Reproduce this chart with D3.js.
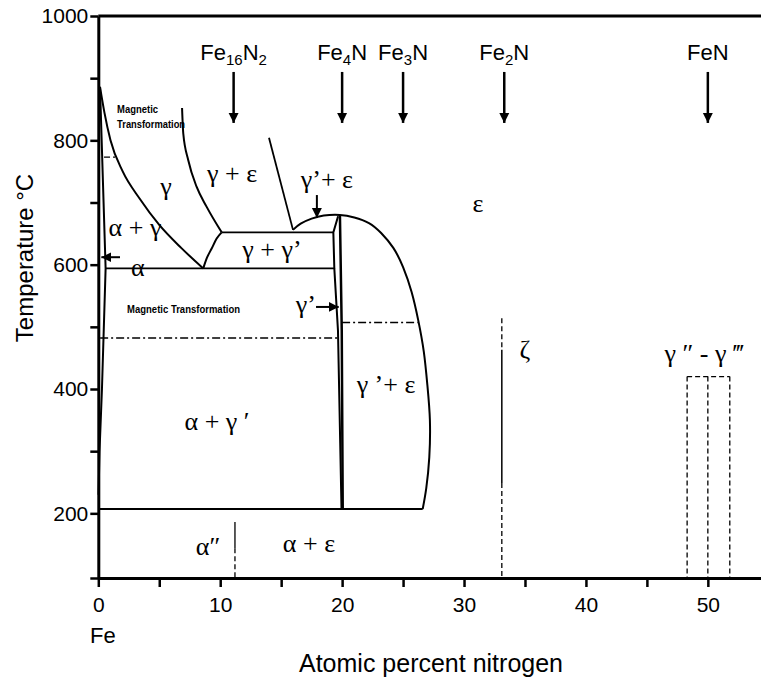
<!DOCTYPE html>
<html>
<head>
<meta charset="utf-8">
<script src="https://cdn.jsdelivr.net/npm/d3@7"></script>
<style>
body { margin: 0; background: #fff; }
svg { display: block; }
.axis text { font-family: "Liberation Sans", Arial, sans-serif; font-size: 21px; fill: #000; }
.axis path, .axis line { stroke: #000; }
.sans { font-family: "Liberation Sans", Arial, sans-serif; fill: #000; }
.greek { font-family: "Liberation Serif", "Times New Roman", serif; font-size: 26px; fill: #000; }
.small { font-family: "Liberation Sans", Arial, sans-serif; font-size: 10px; font-weight: bold; fill: #000; }
</style>
</head>
<body>
<svg id="chart" width="761" height="680"></svg>
<script>
// axis ticks
var xTicks = [0, 5, 10, 15, 20, 25, 30, 35, 40, 45, 50];
var yTicks = [200, 300, 400, 500, 600, 700, 800, 900, 1000];

// phase boundaries [at% N, temperature C]
var alphaSolvus = [[0.14, 886], [0.6, 594], [0.3, 400], [0.1, 300], [0.02, 230]];
var gammaAlpha = [[0.14, 886], [0.5, 845], [1.0, 800], [2.0, 750], [3.4, 706], [5.0, 664], [6.8, 627], [8.61, 594]];
var gammaEps = [[6.87, 852], [6.97, 811], [7.38, 768], [8.07, 725], [8.89, 693], [10.12, 652]];
var gammaGp = [[8.61, 594], [8.89, 610], [9.30, 626], [9.71, 642], [10.12, 652]];
var epsLine = [[14.0, 804], [15.97, 656]];
var epsDome = [[15.97, 656], [16.6, 666], [17.5, 674], [18.5, 679], [19.82, 680], [21.0, 676], [22.2, 667],
  [23.2, 651], [24.2, 627], [25.0, 596], [25.7, 556], [26.25, 510], [26.7, 460], [27.0, 405], [27.2, 350],
  [27.15, 290], [26.9, 240], [26.61, 207]];
var gpLeft = [[19.67, 678], [19.28, 652], [19.36, 594], [19.66, 494], [19.95, 207]];
var gpRight = [[19.82, 680], [19.97, 494], [20.05, 207]];

// horizontal lines: temperature, from, to
var isotherms = [[652, 10.12, 19.28], [594, 0.6, 19.36], [207, 0, 26.61]];
var magneticDashDot = [[482, 0.15, 19.7], [507, 20.0, 26.2]];
var magneticDash = [[773, 0.47, 1.37]];

// vertical lines: x, solid part, dashed parts
var alpha2X = 11.21, alpha2Solid = [186, 144], alpha2Dash = [[144, 96]];
var zetaX = 33.1, zetaSolid = [463, 249], zetaDash = [[514, 463], [249, 96]];
var fenBoxX = [48.3, 50.0, 51.8], fenBoxTop = 420;

// compounds
var compounds = ["Fe16N2", "Fe4N", "Fe3N", "Fe2N", "FeN"];
var compoundX = [11.1, 20, 25, 33.3, 50];

var svg = d3.select("#chart");
var x = d3.scaleLinear().domain([0, 54.36]).range([98.3, 761]);
var y = d3.scaleLinear().domain([96, 1000]).range([578, 16]);

var line = d3.line().x(function(d) { return x(d[0]); }).y(function(d) { return y(d[1]); });
var smoothX = d3.line().x(function(d) { return x(d[0]); }).y(function(d) { return y(d[1]); }).curve(d3.curveMonotoneX);
var smooth = d3.line().x(function(d) { return x(d[0]); }).y(function(d) { return y(d[1]); }).curve(d3.curveNatural);

svg.append("defs").append("marker")
  .attr("id", "head").attr("viewBox", "0 0 10 10")
  .attr("refX", 10).attr("refY", 5)
  .attr("markerWidth", 10).attr("markerHeight", 11)
  .attr("markerUnits", "userSpaceOnUse")
  .attr("orient", "auto")
  .append("path").attr("d", "M0,0L10,5L0,10z").attr("fill", "#000");

// axes
var xAxis = d3.axisBottom(x).tickValues(xTicks)
  .tickFormat(function(d) { return d % 10 === 0 ? d : ""; })
  .tickSize(9).tickPadding(10).tickSizeOuter(0);
var gx = svg.append("g").attr("class", "axis").attr("transform", "translate(0," + y(96) + ")").call(xAxis);
gx.select(".domain").attr("stroke-width", 3);
gx.selectAll(".tick line").attr("stroke-width", 2.5);

var yAxis = d3.axisLeft(y).tickValues(yTicks.concat([96]))
  .tickFormat(function(d) { return d % 200 === 0 ? d : ""; })
  .tickSize(8).tickPadding(2).tickSizeOuter(0);
var gy = svg.append("g").attr("class", "axis").attr("transform", "translate(" + x(0) + ",0)").call(yAxis);
gy.select(".domain").attr("stroke-width", 3);
gy.selectAll(".tick line").attr("stroke-width", 2.5);

svg.append("line").attr("x1", x(0)).attr("x2", x(54.36)).attr("y1", y(1000)).attr("y2", y(1000))
  .attr("stroke", "#000").attr("stroke-width", 3);

// boundaries
var g = svg.append("g").attr("fill", "none").attr("stroke", "#000");
g.append("path").attr("d", line(alphaSolvus)).attr("stroke-width", 2);
g.append("path").attr("d", smoothX(gammaAlpha)).attr("stroke-width", 2);
g.append("path").attr("d", smoothX(gammaEps)).attr("stroke-width", 2);
g.append("path").attr("d", smoothX(gammaGp)).attr("stroke-width", 2);
g.append("path").attr("d", line(epsLine)).attr("stroke-width", 1.8);
g.append("path").attr("d", smooth(epsDome)).attr("stroke-width", 2);
g.append("path").attr("d", line(gpLeft)).attr("stroke-width", 2);
g.append("path").attr("d", line(gpRight)).attr("stroke-width", 2.5);

isotherms.forEach(function(d) {
  g.append("line").attr("x1", x(d[1])).attr("x2", x(d[2])).attr("y1", y(d[0])).attr("y2", y(d[0])).attr("stroke-width", 1.8);
});
magneticDashDot.forEach(function(d) {
  g.append("line").attr("x1", x(d[1])).attr("x2", x(d[2])).attr("y1", y(d[0])).attr("y2", y(d[0]))
    .attr("stroke-width", 1.5).attr("stroke-dasharray", "8,3,2,3");
});
magneticDash.forEach(function(d) {
  g.append("line").attr("x1", x(d[1])).attr("x2", x(d[2])).attr("y1", y(d[0])).attr("y2", y(d[0]))
    .attr("stroke-width", 1.3).attr("stroke-dasharray", "6,3");
});

function vline(xv, t0, t1, dashed, w) {
  var l = g.append("line").attr("x1", x(xv)).attr("x2", x(xv)).attr("y1", y(t0)).attr("y2", y(t1)).attr("stroke-width", w);
  if (dashed) l.attr("stroke-dasharray", "5,3");
}
vline(alpha2X, alpha2Solid[0], alpha2Solid[1], false, 1.3);
alpha2Dash.forEach(function(d) { vline(alpha2X, d[0], d[1], true, 1.3); });
vline(zetaX, zetaSolid[0], zetaSolid[1], false, 1.5);
zetaDash.forEach(function(d) { vline(zetaX, d[0], d[1], true, 1.3); });

fenBoxX.forEach(function(xv) { vline(xv, fenBoxTop, 96, true, 1.3); });
g.append("line").attr("x1", x(fenBoxX[0])).attr("x2", x(fenBoxX[2])).attr("y1", y(fenBoxTop)).attr("y2", y(fenBoxTop))
  .attr("stroke-width", 1.3).attr("stroke-dasharray", "5,3");

// compound arrows and labels
compounds.forEach(function(c, i) {
  var cx = x(compoundX[i]);
  svg.append("line").attr("x1", cx).attr("x2", cx).attr("y1", y(910)).attr("y2", y(828))
    .attr("stroke", "#000").attr("stroke-width", 2.5).attr("marker-end", "url(#head)");
  var t = svg.append("text").attr("class", "sans").attr("x", cx).attr("y", y(929))
    .attr("text-anchor", "middle").style("font-size", "22px");
  var parts = c.match(/[A-Za-z]+|\d+/g);
  var sub = false;
  parts.forEach(function(p) {
    var isNum = /\d/.test(p);
    var ts = t.append("tspan").text(p);
    if (isNum) { ts.style("font-size", "15px").attr("dy", sub ? 0 : 5); sub = true; }
    else if (sub) { ts.attr("dy", -5); sub = false; }
  });
});

// small arrows
function arrow(x0, t0, x1, t1) {
  svg.append("line").attr("x1", x(x0)).attr("y1", y(t0)).attr("x2", x(x1)).attr("y2", y(t1))
    .attr("stroke", "#000").attr("stroke-width", 2).attr("marker-end", "url(#head)");
}
arrow(1.78, 612, 0.25, 612);
arrow(17.93, 712, 17.93, 675);
arrow(17.86, 532, 19.72, 532);

// phase labels
var phaseLabels = [
  ["γ", 5.55, 712], ["γ + ε", 10.97, 733], ["α + γ", 3.01, 646], ["α", 3.25, 581],
  ["γ + γ’", 14.25, 611], ["γ’+ ε", 18.75, 723], ["ε", 31.15, 684], ["γ’", 17.03, 522],
  ["α + γ ′", 9.74, 334], ["γ ’+ ε", 23.6, 393], ["α″", 9.0, 133], ["α + ε", 17.28, 138],
  ["ζ", 35.0, 450], ["γ ″ - γ ‴", 49.7, 443]
];
svg.append("g").selectAll("text").data(phaseLabels).join("text")
  .attr("class", "greek").attr("text-anchor", "middle")
  .attr("x", function(d) { return x(d[1]); }).attr("y", function(d) { return y(d[2]); })
  .text(function(d) { return d[0]; });

var smallLabels = [["Magnetic", 1.54, 844, 41], ["Transformation", 1.54, 820, 68], ["Magnetic Transformation", 2.36, 522, 113]];
svg.append("g").selectAll("text").data(smallLabels).join("text")
  .attr("class", "small")
  .attr("x", function(d) { return x(d[1]); }).attr("y", function(d) { return y(d[2]); })
  .attr("textLength", function(d) { return d[3]; }).attr("lengthAdjust", "spacingAndGlyphs")
  .text(function(d) { return d[0]; });

// axis titles
svg.append("text").attr("class", "sans").attr("x", 90).attr("y", 643).style("font-size", "22px").text("Fe");
svg.append("text").attr("class", "sans").attr("x", 431).attr("y", 672).attr("text-anchor", "middle")
  .style("font-size", "25px").text("Atomic percent nitrogen");
svg.append("text").attr("class", "sans").attr("transform", "translate(33,258) rotate(-90)")
  .attr("text-anchor", "middle").style("font-size", "24px").text("Temperature °C");
</script>
</body>
</html>
